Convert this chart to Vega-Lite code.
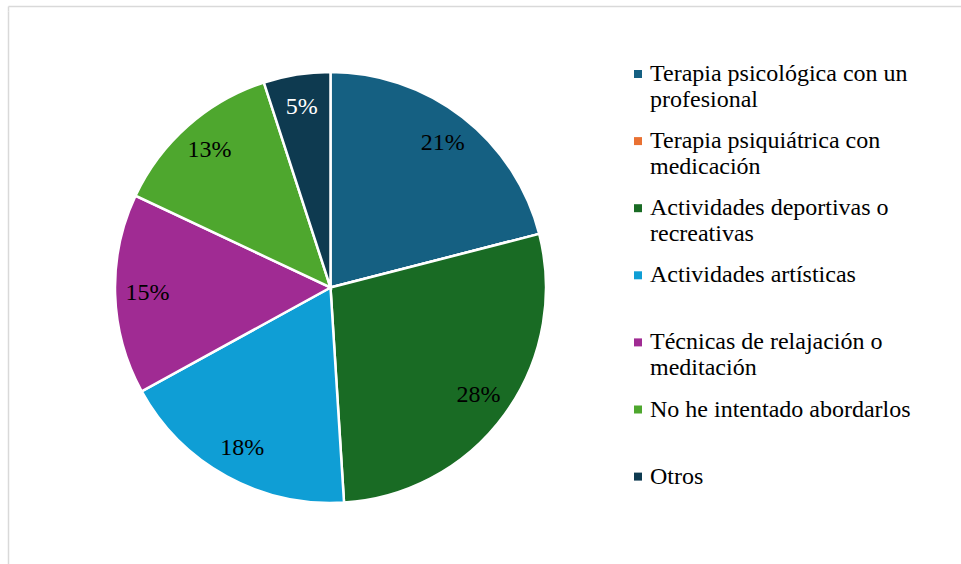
{
  "$schema": "https://vega.github.io/schema/vega-lite/v6.json",
  "padding": {"left": 8, "top": 6, "right": 0, "bottom": 0},
  "spacing": 0,
  "bounds": "flush",
  "background": "white",
  "config": {
    "view": {"stroke": null},
    "font": "Liberation Serif"
  },
  "data": {
    "values": [
      {"categoria": "Terapia psicológica con un profesional", "valor": 0.21, "orden": 1},
      {"categoria": "Terapia psiquiátrica con medicación", "valor": 0.0, "orden": 2},
      {"categoria": "Actividades deportivas o recreativas", "valor": 0.28, "orden": 3},
      {"categoria": "Actividades artísticas", "valor": 0.18, "orden": 4},
      {"categoria": "Técnicas de relajación o meditación", "valor": 0.15, "orden": 5},
      {"categoria": "No he intentado abordarlos", "valor": 0.13, "orden": 6},
      {"categoria": "Otros", "valor": 0.05, "orden": 7}
    ]
  },
  "vconcat": [
    {
      "width": 953,
      "height": 5,
      "mark": {"type": "point", "opacity": 0, "size": 0},
      "encoding": {
        "x": {"datum": 0, "type": "quantitative", "scale": {"domain": [0, 1]},
          "axis": {"orient": "top", "domain": true, "domainColor": "#d9d9d9", "domainWidth": 1.5, "ticks": false, "labels": false, "grid": false, "title": null, "minExtent": 0, "maxExtent": 0}},
        "y": {"datum": 0, "type": "quantitative", "scale": {"domain": [0, 1]},
          "axis": {"orient": "left", "domain": true, "domainColor": "#d9d9d9", "domainWidth": 1.5, "ticks": false, "labels": false, "grid": false, "title": null, "minExtent": 0, "maxExtent": 0}}
      }
    },
    {
      "width": 645,
      "height": 553,
      "layer": [
        {
          "mark": {"type": "point", "opacity": 0, "size": 0},
          "encoding": {
            "y": {"datum": 0, "type": "quantitative", "scale": {"domain": [0, 1]},
              "axis": {"orient": "left", "domain": true, "domainColor": "#d9d9d9", "domainWidth": 1.5, "ticks": false, "labels": false, "grid": false, "title": null, "minExtent": 0, "maxExtent": 0}}
          }
        },
        {
          "mark": {"type": "arc", "radius": 215.5, "stroke": "white", "strokeWidth": 2.5},
          "encoding": {
            "theta": {"field": "valor", "type": "quantitative", "stack": true},
            "order": {"field": "orden", "type": "quantitative"},
            "color": {
              "field": "categoria",
              "type": "nominal",
              "scale": {
                "domain": ["Terapia psicológica con un profesional", "Terapia psiquiátrica con medicación", "Actividades deportivas o recreativas", "Actividades artísticas", "Técnicas de relajación o meditación", "No he intentado abordarlos", "Otros"],
                "range": ["#156082", "#e97132", "#196b24", "#0f9ed5", "#a02b93", "#4ea72e", "#0e3a50"]
              },
              "legend": {
                "orient": "none",
                "legendX": 618,
                "legendY": 56,
                "title": null,
                "padding": 0,
                "symbolType": "square",
                "symbolSize": 64,
                "symbolStrokeWidth": 0,
                "labelFont": "Liberation Serif",
                "labelFontSize": 24,
                "labelColor": "#000000",
                "labelBaseline": "middle",
                "labelLineHeight": 26.5,
                "labelLimit": 330,
                "labelOffset": 0,
                "gridAlign": "all",
                "rowPadding": 17.1,
                "labelExpr": "datum.label == 'Terapia psicológica con un profesional' ? ['Terapia psicológica con un', 'profesional'] : datum.label == 'Terapia psiquiátrica con medicación' ? ['Terapia psiquiátrica con', 'medicación'] : datum.label == 'Actividades deportivas o recreativas' ? ['Actividades deportivas o', 'recreativas'] : datum.label == 'Técnicas de relajación o meditación' ? ['Técnicas de relajación o', 'meditación'] : datum.label"
              }
            }
          }
        },
        {
          "transform": [{"filter": "datum.valor > 0"}],
          "mark": {"type": "text", "radius": 183, "font": "Liberation Serif", "fontSize": 24, "baseline": "middle", "align": "center"},
          "encoding": {
            "theta": {"field": "valor", "type": "quantitative", "stack": true},
            "order": {"field": "orden", "type": "quantitative"},
            "text": {"field": "valor", "type": "quantitative", "format": ".0%"},
            "color": {"condition": {"test": "datum.categoria == 'Otros'", "value": "#ffffff"}, "value": "#000000"}
          }
        }
      ]
    }
  ]
}
